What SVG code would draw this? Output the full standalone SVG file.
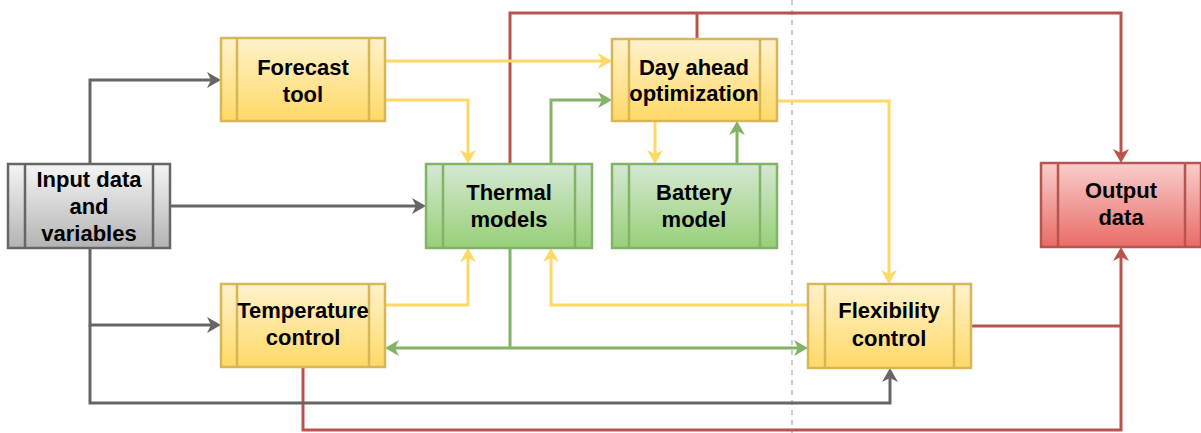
<svg xmlns="http://www.w3.org/2000/svg" width="1201" height="433" viewBox="0 0 1201 433">
<style>
.box{stroke-width:2.5}
.div{fill:none;stroke-width:2.5}
.lbl{font-family:"Liberation Sans",Arial,sans-serif;font-weight:bold;font-size:22px;fill:#000;text-anchor:middle}
.c{fill:none;stroke-width:3;stroke-linejoin:miter}
.gray{stroke:#666666}
.yel{stroke:#ffd966}
.grn{stroke:#82b366}
.red{stroke:#b85450}
</style>
<defs>
<linearGradient id="gY" x1="0" y1="0" x2="0" y2="1"><stop offset="0" stop-color="#fff2cc"/><stop offset="1" stop-color="#ffd966"/></linearGradient>
<linearGradient id="gG" x1="0" y1="0" x2="0" y2="1"><stop offset="0" stop-color="#d5e8d4"/><stop offset="1" stop-color="#97d077"/></linearGradient>
<linearGradient id="gR" x1="0" y1="0" x2="0" y2="1"><stop offset="0" stop-color="#f8cecc"/><stop offset="1" stop-color="#ea6b66"/></linearGradient>
<linearGradient id="gK" x1="0" y1="0" x2="0" y2="1"><stop offset="0" stop-color="#f5f5f5"/><stop offset="1" stop-color="#b3b3b3"/></linearGradient>
<marker id="aK" viewBox="0 0 14 16" refX="4" refY="8" markerWidth="14" markerHeight="16" markerUnits="userSpaceOnUse" orient="auto-start-reverse"><path d="M0,0 L14,8 L0,16 L4,8 Z" fill="#666666"/></marker>
<marker id="aY" viewBox="0 0 14 16" refX="4" refY="8" markerWidth="14" markerHeight="16" markerUnits="userSpaceOnUse" orient="auto-start-reverse"><path d="M0,0 L14,8 L0,16 L4,8 Z" fill="#ffd966"/></marker>
<marker id="aG" viewBox="0 0 14 16" refX="4" refY="8" markerWidth="14" markerHeight="16" markerUnits="userSpaceOnUse" orient="auto-start-reverse"><path d="M0,0 L14,8 L0,16 L4,8 Z" fill="#82b366"/></marker>
<marker id="aR" viewBox="0 0 14 16" refX="4" refY="8" markerWidth="14" markerHeight="16" markerUnits="userSpaceOnUse" orient="auto-start-reverse"><path d="M0,0 L14,8 L0,16 L4,8 Z" fill="#b85450"/></marker>
</defs>
<rect width="1201" height="433" fill="#ffffff"/>
<line x1="792" y1="0" x2="792" y2="433" stroke="#cccccc" stroke-width="2" stroke-dasharray="5 5"/>
<g id="connectors">
<path class="c red" d="M510,164 V13 H1121 V153" marker-end="url(#aR)"/>
<path class="c red" d="M697,39 V13"/>
<path class="c red" d="M303,367 V430 H1121 V257" marker-end="url(#aR)"/>
<path class="c red" d="M971,326 H1121"/>
<path class="c gray" d="M90,164 V80 H211" marker-end="url(#aK)"/>
<path class="c gray" d="M170,206 H416" marker-end="url(#aK)"/>
<path class="c gray" d="M90,248 V325 H211" marker-end="url(#aK)"/>
<path class="c gray" d="M90,325 V403 H890 V378" marker-end="url(#aK)"/>
<path class="c yel" d="M385,61 H602" marker-end="url(#aY)"/>
<path class="c yel" d="M385,100 H468 V154" marker-end="url(#aY)"/>
<path class="c grn" d="M551,164 V100 H602" marker-end="url(#aG)"/>
<path class="c yel" d="M655,121 V154" marker-end="url(#aY)"/>
<path class="c grn" d="M737,164 V131" marker-end="url(#aG)"/>
<path class="c yel" d="M777,101 H889 V274" marker-end="url(#aY)"/>
<path class="c yel" d="M385,305 H468 V258" marker-end="url(#aY)"/>
<path class="c yel" d="M808,305 H551 V258" marker-end="url(#aY)"/>
<path class="c grn" d="M510,248 V348"/>
<path class="c grn" d="M395,348 H798" marker-start="url(#aG)" marker-end="url(#aG)"/>
</g>
<g id="input">
<rect class="box" x="8" y="164" width="162" height="84" fill="url(#gK)" stroke="#666666"/>
<path class="div" d="M25,164 V248 M153,164 V248" stroke="#666666"/>
<text class="lbl" x="89" y="187">Input data</text>
<text class="lbl" x="89" y="214">and</text>
<text class="lbl" x="89" y="241">variables</text>
</g>
<g id="forecast">
<rect class="box" x="221" y="38" width="164" height="83" fill="url(#gY)" stroke="#d6b656"/>
<path class="div" d="M237,38 V121 M369,38 V121" stroke="#d6b656"/>
<text class="lbl" x="303" y="75">Forecast</text>
<text class="lbl" x="303" y="102">tool</text>
</g>
<g id="thermal">
<rect class="box" x="426" y="164" width="166" height="84" fill="url(#gG)" stroke="#82b366"/>
<path class="div" d="M443,164 V248 M575,164 V248" stroke="#82b366"/>
<text class="lbl" x="509" y="200">Thermal</text>
<text class="lbl" x="509" y="227">models</text>
</g>
<g id="dayahead">
<rect class="box" x="612" y="39" width="165" height="82" fill="url(#gY)" stroke="#d6b656"/>
<path class="div" d="M629,39 V121 M760,39 V121" stroke="#d6b656"/>
<text class="lbl" x="694" y="75">Day ahead</text>
<text class="lbl" x="694" y="101">optimization</text>
</g>
<g id="battery">
<rect class="box" x="612" y="164" width="165" height="84" fill="url(#gG)" stroke="#82b366"/>
<path class="div" d="M629,164 V248 M760,164 V248" stroke="#82b366"/>
<text class="lbl" x="694" y="200">Battery</text>
<text class="lbl" x="694" y="227">model</text>
</g>
<g id="output">
<rect class="box" x="1041" y="163" width="160" height="84" fill="url(#gR)" stroke="#b85450"/>
<path class="div" d="M1058,163 V247 M1185,163 V247" stroke="#b85450"/>
<text class="lbl" x="1121" y="198">Output</text>
<text class="lbl" x="1121" y="225">data</text>
</g>
<g id="temperature">
<rect class="box" x="221" y="284" width="164" height="83" fill="url(#gY)" stroke="#d6b656"/>
<path class="div" d="M237,284 V367 M369,284 V367" stroke="#d6b656"/>
<text class="lbl" x="303" y="318">Temperature</text>
<text class="lbl" x="303" y="345">control</text>
</g>
<g id="flexibility">
<rect class="box" x="808" y="284" width="163" height="84" fill="url(#gY)" stroke="#d6b656"/>
<path class="div" d="M825,284 V368 M954,284 V368" stroke="#d6b656"/>
<text class="lbl" x="889" y="318">Flexibility</text>
<text class="lbl" x="889" y="346">control</text>
</g>
</svg>
